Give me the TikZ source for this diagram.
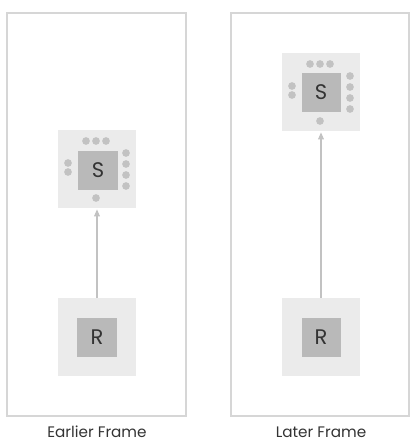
\documentclass[tikz,border=0pt]{standalone}
\usepackage{fontspec}
\setmainfont{Poppins}
\usetikzlibrary{arrows.meta}
\definecolor{padgray}{HTML}{EBEBEB}
\definecolor{blockgray}{HTML}{B9B9B9}
\definecolor{pingray}{HTML}{C2C2C2}
\definecolor{edgegray}{HTML}{D6D6D6}
\definecolor{ink}{HTML}{333333}

\begin{document}
\begin{tikzpicture}
  [x=0.03cm,y=-0.03cm,
   frame/.style={draw=edgegray,line width=1.1pt},
   pad/.style={rectangle,fill=padgray,minimum size=2.34cm,inner sep=0pt},
   block/.style={rectangle,fill=blockgray,minimum size=1.17cm,inner sep=0pt,
     text=ink,font=\fontsize{18}{18}\selectfont},
   pin/.style={circle,fill=pingray,minimum size=0.23cm,inner sep=0pt},
   link/.style={draw=pingray,line width=0.9pt,shorten >=1pt,
     -{Triangle[width=5pt,length=6pt]}},
   caption/.style={text=ink,inner sep=0pt,anchor=base,
     font=\fontsize{13}{14}\selectfont}]
  \useasboundingbox (0,0) rectangle (413,443);

  \draw[frame] (7,13) rectangle (186,416);
  \draw[frame] (231,13) rectangle (409,416);

  \node[pad] (s1) at (97,169) {};
  \node[pad] (s2) at (321,92)  {};
  \node[pad] (r1) at (97,337) {};
  \node[pad] (r2) at (321,337) {};

  \node[block] (s1c) at (98,170) {S};
  \node[block] (s2c) at (321,92.5) {S};
  \node[block] (r1c) at (97,337) {R};
  \node[block] (r2c) at (321,337) {R};

  \foreach \s/\cx/\cy in {s1/97/169, s2/321/92}
    \foreach \dx/\dy [count=\i] in {-11/-28,-1/-28,9/-28,-29/-6,-29/3,
                                     29/-16,29/-5,29/6,29/17,-1/29}
      \node[pin] (\s-\i) at (\cx+\dx,\cy+\dy) {};

  \foreach \src/\dst in {r1/s1, r2/s2}
    \draw[link] (\src) -- (\dst);

  \node[caption] (cap1) at (97,437) {Earlier Frame};
  \node[caption] (cap2) at (321,437) {Later Frame};

\end{tikzpicture}
\end{document}
